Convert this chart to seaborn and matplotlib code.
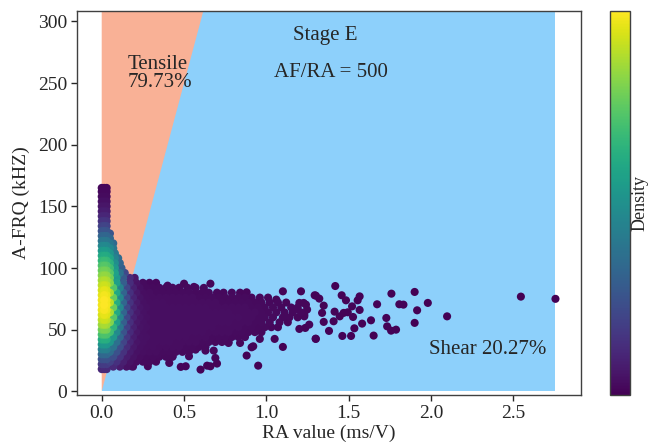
import numpy as np
import pandas as pd
import matplotlib
matplotlib.use("Agg")
import matplotlib.pyplot as plt
import seaborn as sns

# ---- data ----
# dense core at RA ~ 0 : rows of A-FRQ with event counts per row
core_ra = [0.0, 0.015, 0.03]
core_af = [18, 22, 26, 30, 34, 38, 42, 46, 50, 54, 58, 62, 66, 70, 74, 78, 82, 86, 90,
           94, 98, 102, 106, 110, 114, 118, 122, 126, 130, 134, 138, 142, 146, 150,
           154, 158, 162, 165]
core_n = [2, 4, 7, 11, 16, 21, 26, 30, 33, 36, 38, 40, 41, 41, 41, 40, 39, 37, 35,
          33, 31, 29, 27, 25, 22, 19, 15, 12, 9, 6, 4, 3, 2, 1.5,
          1, 1, 1, 1]

# shoulder of the core (RA 0.05 - 0.2, A-FRQ above 90)
shoulder_af = [92, 96, 100, 104, 108, 112, 116, 120, 124, 128]
shoulder_ra = [
    [0.05, 0.09, 0.13, 0.17, 0.20],
    [0.05, 0.08, 0.11, 0.14],
    [0.05, 0.08, 0.12],
    [0.05, 0.08, 0.11],
    [0.05, 0.08, 0.10],
    [0.05, 0.08],
    [0.05, 0.07],
    [0.05, 0.07],
    [0.05],
    [0.05],
]

# main horizontal band of hits
band_af = [88, 84, 80, 76, 72, 68, 64, 60, 56, 52, 48, 44, 40, 36, 32, 28, 24, 20]
band_ra = [
    [0.05, 0.09, 0.13, 0.17, 0.21, 0.25, 0.29, 0.33],
    [0.07, 0.11, 0.15, 0.19, 0.23, 0.27, 0.31, 0.35, 0.39, 0.43, 0.47, 0.52, 0.57],
    [0.05, 0.09, 0.13, 0.17, 0.21, 0.25, 0.29, 0.33, 0.37, 0.41, 0.45, 0.49, 0.53,
     0.57, 0.61, 0.65, 0.70, 0.74, 0.79, 0.84],
    [0.07, 0.11, 0.15, 0.19, 0.23, 0.27, 0.31, 0.35, 0.39, 0.43, 0.47, 0.51, 0.55,
     0.59, 0.63, 0.67, 0.71, 0.75, 0.79, 0.83, 0.87, 0.91, 0.96, 1.01],
    [0.05, 0.09, 0.13, 0.17, 0.21, 0.25, 0.29, 0.33, 0.37, 0.41, 0.45, 0.49, 0.53,
     0.57, 0.61, 0.65, 0.69, 0.73, 0.77, 0.81, 0.85, 0.89, 0.93, 0.97, 1.02, 1.07, 1.12],
    [0.07, 0.11, 0.15, 0.19, 0.23, 0.27, 0.31, 0.35, 0.39, 0.43, 0.47, 0.51, 0.55,
     0.59, 0.63, 0.67, 0.71, 0.75, 0.79, 0.83, 0.87, 0.91, 0.95, 0.99, 1.04, 1.09,
     1.15, 1.19],
    [0.05, 0.09, 0.13, 0.17, 0.21, 0.25, 0.29, 0.33, 0.37, 0.41, 0.45, 0.49, 0.53,
     0.57, 0.61, 0.65, 0.69, 0.73, 0.77, 0.81, 0.85, 0.89, 0.93, 0.97, 1.01, 1.06,
     1.11, 1.16, 1.21],
    [0.07, 0.11, 0.15, 0.19, 0.23, 0.27, 0.31, 0.35, 0.39, 0.43, 0.47, 0.51, 0.55,
     0.59, 0.63, 0.67, 0.71, 0.75, 0.79, 0.83, 0.87, 0.91, 0.95, 0.99, 1.04, 1.10,
     1.14, 1.19],
    [0.05, 0.09, 0.13, 0.17, 0.21, 0.25, 0.29, 0.33, 0.37, 0.41, 0.45, 0.49, 0.53,
     0.57, 0.61, 0.65, 0.69, 0.73, 0.77, 0.81, 0.85, 0.89, 0.93, 0.97, 1.02, 1.08, 1.13],
    [0.07, 0.11, 0.15, 0.19, 0.23, 0.27, 0.31, 0.35, 0.39, 0.43, 0.47, 0.51, 0.55,
     0.59, 0.63, 0.67, 0.71, 0.75, 0.79, 0.83, 0.87, 0.91, 0.95, 0.99, 1.03, 1.07],
    [0.05, 0.09, 0.13, 0.17, 0.21, 0.25, 0.29, 0.33, 0.37, 0.41, 0.45, 0.49, 0.53,
     0.57, 0.61, 0.65, 0.69, 0.73, 0.77, 0.81, 0.85, 0.89, 0.93, 0.97],
    [0.07, 0.11, 0.15, 0.19, 0.23, 0.27, 0.31, 0.35, 0.39, 0.43, 0.47, 0.51, 0.55,
     0.59, 0.63, 0.67, 0.71, 0.75, 0.79, 0.83, 0.87],
    [0.05, 0.09, 0.13, 0.17, 0.21, 0.25, 0.29, 0.33, 0.37, 0.41, 0.45, 0.49, 0.53,
     0.57, 0.61, 0.65, 0.69, 0.73, 0.77],
    [0.07, 0.11, 0.15, 0.19, 0.23, 0.27, 0.31, 0.35, 0.39, 0.43, 0.47, 0.51, 0.55,
     0.59, 0.63],
    [0.05, 0.09, 0.13, 0.17, 0.21, 0.25, 0.29, 0.33, 0.37, 0.41, 0.45, 0.49, 0.53],
    [0.07, 0.11, 0.15, 0.19, 0.23, 0.27, 0.31, 0.35, 0.39, 0.43],
    [0.05, 0.09, 0.13, 0.17, 0.21, 0.25, 0.29, 0.33],
    [0.07, 0.11, 0.15, 0.19],
]

# isolated hits
sparse_ra = [0.40, 0.50, 0.56, 0.62, 0.66, 0.88, 1.10, 1.21, 1.30, 1.06, 1.20, 1.24,
             1.17, 1.23, 1.26, 1.20, 1.30, 1.10, 1.05, 0.96, 0.91, 0.88, 0.95, 0.77,
             0.84, 0.69, 0.68, 0.63, 0.70, 0.66, 0.60, 0.57, 0.51, 0.53, 0.28, 0.18,
             0.41, 0.48, 0.34, 0.43, 0.92, 0.64,
             1.418, 1.293, 1.321, 1.457, 1.483, 1.566, 1.554, 1.759, 1.900, 1.672,
             1.807, 1.832, 1.980, 1.915, 2.097, 1.900, 1.728, 1.733, 1.757, 1.787,
             1.635, 1.581, 1.651, 1.534, 1.514, 1.461, 1.380, 1.299, 1.566, 1.526,
             1.469, 1.494, 1.445, 1.414, 1.408, 1.338, 1.348, 1.348, 1.247, 1.226,
             1.230, 1.236, 1.520, 2.545, 2.755]
sparse_af = [85.7, 87.3, 84.7, 83.9, 87.3, 80.3, 81.1, 81.1, 77.6, 74.4, 71.7, 70.3,
             66.3, 62.2, 54.1, 50.6, 42.5, 36.0, 42.5, 42.5, 35.7, 29.0, 20.8, 39.2,
             39.2, 27.0, 33.0, 33.0, 22.5, 20.3, 17.6, 33.8, 20.3, 28.4, 20.3, 20.3,
             23.0, 19.8, 29.8, 28.4, 36.5, 20.8,
             85.4, 77.9, 75.2, 77.9, 73.8, 77.0, 73.8, 79.2, 80.6, 70.6,
             70.6, 70.3, 71.7, 65.7, 60.8, 55.5, 59.5, 52.7, 49.2, 50.0,
             57.6, 54.9, 45.2, 51.1, 44.9, 44.9, 49.0, 42.7, 66.0, 60.3,
             63.6, 64.1, 60.8, 64.6, 56.8, 63.6, 56.3, 69.5, 66.3, 71.7,
             60.8, 51.4, 68.9, 76.8, 75.0]

AF_RA = 500  # boundary line slope

# ---- build table ----
rows = []
for af, n in zip(core_af, core_n):
    for ra in core_ra:
        rows.append((ra, af, n))
for af, ras in zip(shoulder_af, shoulder_ra):
    for ra in ras:
        rows.append((ra, af, 1))
for af, ras in zip(band_af, band_ra):
    for ra in ras:
        rows.append((ra, af, 1))
for ra, af in zip(sparse_ra, sparse_af):
    rows.append((ra, af, 1))
df = pd.DataFrame(rows, columns=["ra", "af", "n"])

# weighted gaussian density in screen-like units
u = df["ra"].values * 164.6
v = df["af"].values * 1.233
hx, hy = 12.0, 13.0
du = (u[:, None] - u[None, :]) / hx
dv = (v[:, None] - v[None, :]) / hy
df["density"] = (np.exp(-0.5 * (du ** 2 + dv ** 2)) * df["n"].values[None, :]).sum(axis=1)
df = df.sort_values("density")

# ---- plot ----
sns.set_theme(style="ticks")
plt.rcParams["font.family"] = ["Liberation Serif", "DejaVu Serif"]
plt.rcParams["axes.linewidth"] = 1.0

fig = plt.figure(figsize=(6.49, 4.45), dpi=100)
ax = fig.add_axes([77 / 649, 50 / 445, 504 / 649, 384 / 445])

x_left, x_right = -0.15, 2.91
y_bot, y_top = -3, 308.5
ra_max = df["ra"].max()

ax.fill_between([0, ra_max], 0, y_top, color="#8DD0FB", lw=0, zorder=0)
x_top = y_top / AF_RA
ax.fill([0, x_top, 0], [0, y_top, y_top], color="#F9B196", lw=0, zorder=0.5)

norm = plt.Normalize(df["density"].min(), df["density"].max())
sns.scatterplot(data=df, x="ra", y="af", hue="density", palette="viridis",
                hue_norm=norm, s=34, linewidth=0, legend=False, ax=ax, zorder=2)

ax.set_xlim(x_left, x_right)
ax.set_ylim(y_bot, y_top)
ax.set_xticks([0, 0.5, 1.0, 1.5, 2.0, 2.5])
ax.set_xticklabels(["0.0", "0.5", "1.0", "1.5", "2.0", "2.5"])
ax.set_yticks([0, 50, 100, 150, 200, 250, 300])
ax.tick_params(axis="both", direction="out", length=4, width=1, labelsize=14,
               colors="0.15", pad=3)
for s in ax.spines.values():
    s.set_visible(True)
    s.set_color("0.25")

ax.set_xlabel("RA value (ms/V)", fontsize=14, labelpad=2)
ax.set_ylabel("A-FRQ (kHZ)", fontsize=14, labelpad=6)

ax.text(1.36, 289, "Stage E", fontsize=15, ha="center", va="center")
ax.text(1.39, 259, "AF/RA = 500", fontsize=15, ha="center", va="center")
ax.text(0.16, 258, "Tensile\n79.73%", fontsize=15, ha="left", va="center",
        linespacing=0.95)
ax.text(1.99, 34, "Shear 20.27%", fontsize=15, ha="left", va="center")

cax = fig.add_axes([610 / 649, 50 / 445, 20 / 649, 384 / 445])
sm = plt.cm.ScalarMappable(norm=norm, cmap="viridis")
cbar = fig.colorbar(sm, cax=cax)
cbar.set_ticks([])
cbar.outline.set_linewidth(1.0)
cbar.outline.set_edgecolor("0.25")
cbar.set_label("Density", fontsize=13, labelpad=1)

fig.savefig("out.png", dpi=100)
